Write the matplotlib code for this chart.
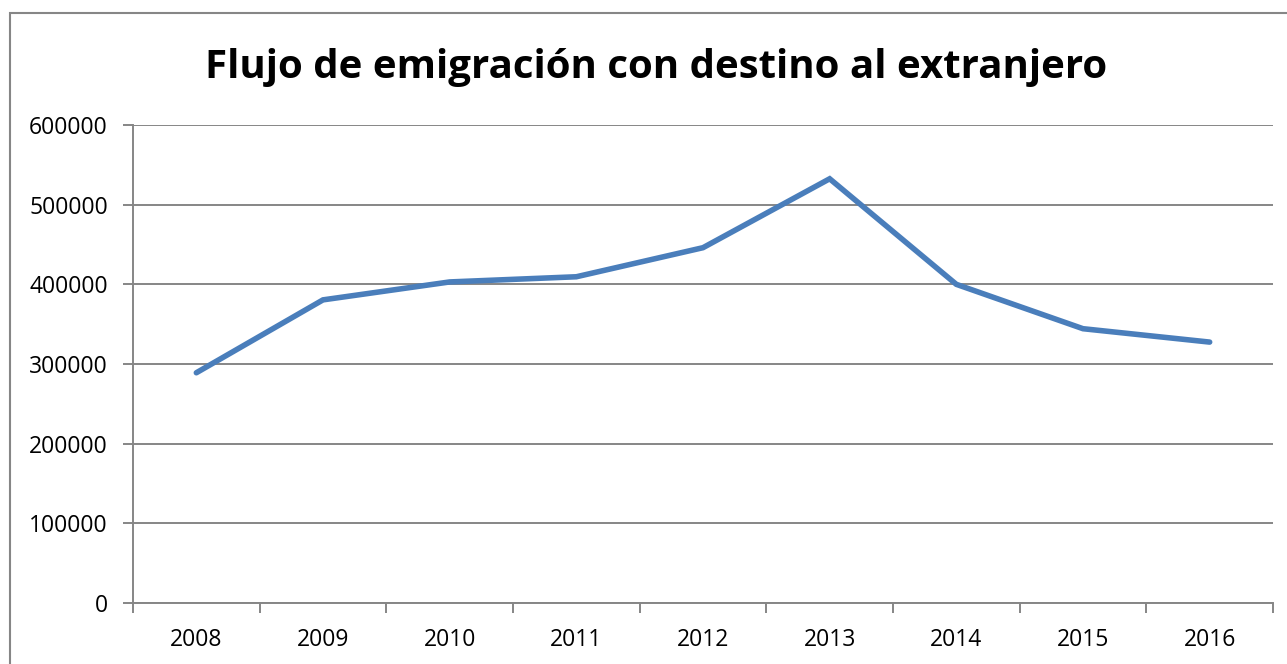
import matplotlib
matplotlib.use("Agg")
import matplotlib.pyplot as plt
from matplotlib.patches import Rectangle
from matplotlib.ticker import FixedLocator

years = ["2008", "2009", "2010", "2011", "2012", "2013", "2014", "2015", "2016"]
emigrants = [289000, 380500, 403000, 409500, 446000, 532500, 400000, 344300, 327500]
y_ticks = [0, 100000, 200000, 300000, 400000, 500000, 600000]
title = "Flujo de emigración con destino al extranjero"

plt.rcParams['font.family'] = ['Open Sans', 'DejaVu Sans']
grey = "#868686"

fig = plt.figure(figsize=(12.87, 6.64), dpi=100)
fig.patches.append(Rectangle((10/1287, -0.1), 1.2, (664 - 13)/664 + 0.1,
                             transform=fig.transFigure, fill=False,
                             edgecolor=grey, linewidth=1.5))

ax = fig.add_axes([133/1287, 61/664, 1140/1287, 478/664])
x = list(range(len(years)))
ax.plot(x, emigrants, color="#4a7ebb", linewidth=4.0, solid_capstyle="round",
        solid_joinstyle="miter", zorder=3)

ax.set_xlim(-0.5, len(years) - 0.5)
ax.set_ylim(0, 600000)
ax.set_yticks(y_ticks)
ax.set_yticklabels([str(v) for v in y_ticks])
ax.yaxis.grid(True, color=grey, linewidth=1.4)
ax.set_axisbelow(True)

ax.set_xticks(x)
ax.set_xticklabels(years)
ax.xaxis.set_minor_locator(FixedLocator([i - 0.5 for i in range(len(years) + 1)]))
ax.tick_params(axis="x", which="major", length=0, pad=18, labelsize=16.5)
ax.tick_params(axis="x", which="minor", length=7, width=1.4, color=grey, direction="out")
ax.tick_params(axis="y", length=7, width=1.4, color=grey, pad=11, labelsize=16.5)

for s in ["top", "right"]:
    ax.spines[s].set_visible(False)
for s in ["left", "bottom"]:
    ax.spines[s].set_color(grey)
    ax.spines[s].set_linewidth(1.4)

fig.text(656/1287, 1 - 78/664, title, ha="center", va="baseline",
         fontsize=29, fontweight="bold", color="black")

fig.savefig("out.png", dpi=100, facecolor="white")
